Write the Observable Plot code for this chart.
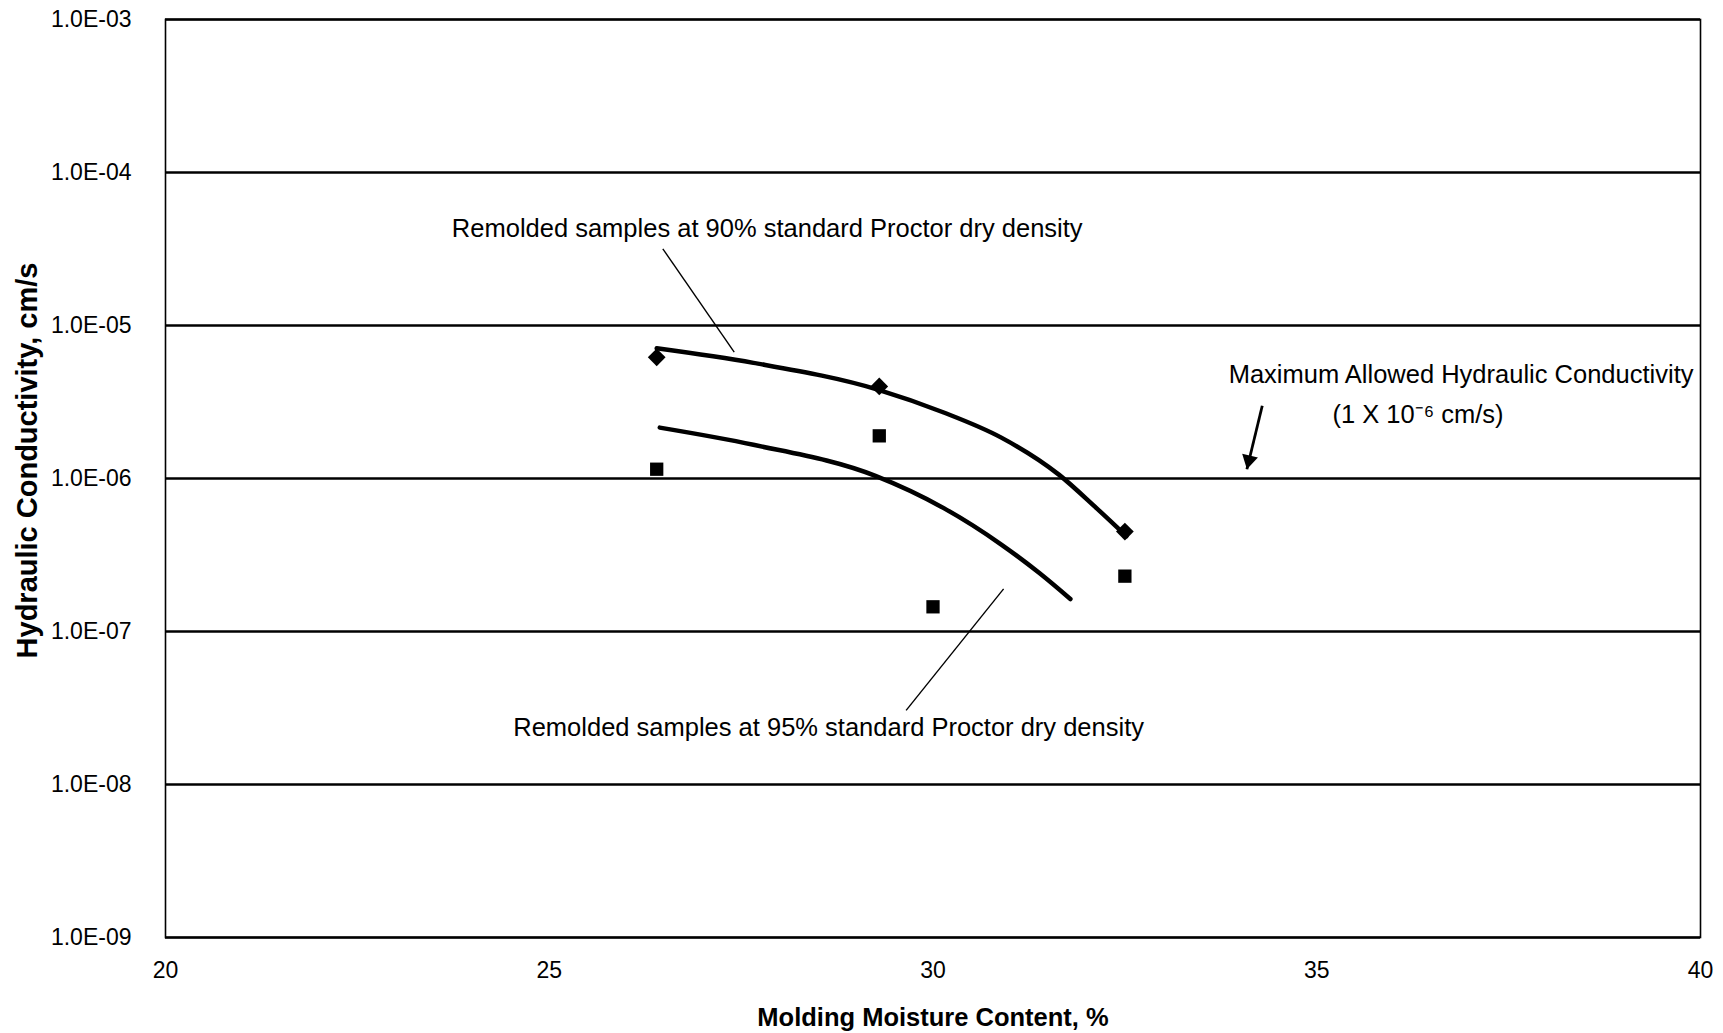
<!DOCTYPE html>
<html>
<head>
<meta charset="utf-8">
<script src="https://cdn.jsdelivr.net/npm/d3@7"></script>
<script src="https://cdn.jsdelivr.net/npm/@observablehq/plot@0.6"></script>
<style>
  html, body { margin: 0; padding: 0; background: #fff; }
  #chart svg { display: block; }
</style>
</head>
<body>
<div id="chart"></div>
<script>
// ---- Data ----
// Measured points, 90% standard Proctor dry density (diamonds)
const moisture90 = [26.4, 29.3, 32.5];
const conductivity90 = [6.2e-6, 4.0e-6, 4.5e-7];
// Measured points, 95% standard Proctor dry density (squares)
const moisture95 = [26.4, 29.3, 30.0, 32.5];
const conductivity95 = [1.15e-6, 1.9e-6, 1.45e-7, 2.3e-7];

// Trend curves
const curve90X = [26.40, 27.66, 29.29, 30.14, 30.89, 31.64, 32.13, 32.52];
const curve90Y = [7.1e-6, 5.7e-6, 3.8e-6, 2.7e-6, 1.85e-6, 1.06e-6, 6.4e-7, 4.2e-7];
const curve95X = [26.44, 27.66, 29.25, 30.14, 30.89, 31.39, 31.79];
const curve95Y = [2.15e-6, 1.66e-6, 1.04e-6, 6.4e-7, 3.7e-7, 2.4e-7, 1.63e-7];

// Axis ticks
const xTicks = [20, 25, 30, 35, 40];
const yTicks = [1e-9, 1e-8, 1e-7, 1e-6, 1e-5, 1e-4, 1e-3];
const yTickLabels = ["1.0E-09", "1.0E-08", "1.0E-07", "1.0E-06", "1.0E-05", "1.0E-04", "1.0E-03"];

// Annotations (data coordinates)
const labelTexts = [
  "Remolded samples at 90% standard Proctor dry density",
  "Remolded samples at 95% standard Proctor dry density",
  "Maximum Allowed Hydraulic Conductivity",
  "(1 X 10\u207B\u2076 cm/s)"
];
const labelX = [27.84, 28.64, 36.88, 36.32];
const labelY = [4.3e-5, 2.33e-8, 4.76e-6, 2.6e-6];
const leaderX1 = [26.48, 30.92];
const leaderY1 = [3.17e-5, 1.9e-7];
const leaderX2 = [27.41, 29.65];
const leaderY2 = [6.7e-6, 3.05e-8];
const arrowX1 = [34.29], arrowY1 = [2.99e-6], arrowX2 = [34.09], arrowY2 = [1.15e-6];

const xTitle = "Molding Moisture Content, %";
const yTitle = "Hydraulic Conductivity, cm/s";

// ---- Build tables ----
const pts90 = moisture90.map((x, i) => ({x, y: conductivity90[i]}));
const pts95 = moisture95.map((x, i) => ({x, y: conductivity95[i]}));
const c90 = curve90X.map((x, i) => ({x, y: curve90Y[i]}));
const c95 = curve95X.map((x, i) => ({x, y: curve95Y[i]}));
const labels = labelTexts.map((t, i) => ({t, x: labelX[i], y: labelY[i]}));
const leaders = leaderX1.map((x1, i) => ({x1, y1: leaderY1[i], x2: leaderX2[i], y2: leaderY2[i]}));
const arrows = arrowX1.map((x1, i) => ({x1, y1: arrowY1[i], x2: arrowX2[i], y2: arrowY2[i]}));
const yLabelMap = new Map(yTicks.map((v, i) => [v, yTickLabels[i]]));

const font = "'Liberation Sans', Arial, Helvetica, sans-serif";

const chart = Plot.plot({
  width: 1723,
  height: 1033,
  marginLeft: 165,
  marginRight: 23,
  marginTop: 19,
  marginBottom: 96,
  style: {fontFamily: font, fontSize: "23px", color: "#000", background: "#fff"},
  x: {domain: [20, 40], ticks: xTicks, tickSize: 0, tickPadding: 24, label: null},
  y: {type: "log", domain: [1e-9, 1e-3], ticks: yTicks, tickSize: 0, tickPadding: 34,
      tickFormat: d => yLabelMap.get(d), label: null},
  marks: [
    Plot.ruleY(yTicks, {stroke: "#000", strokeWidth: 2.6}),
    Plot.frame({stroke: "#000", strokeWidth: 1.6}),
    Plot.line(c90, {x: "x", y: "y", curve: "monotone-x", stroke: "#000", strokeWidth: 4.5, strokeLinecap: "round"}),
    Plot.line(c95, {x: "x", y: "y", curve: "monotone-x", stroke: "#000", strokeWidth: 4.5, strokeLinecap: "round"}),
    Plot.dot(pts90, {x: "x", y: "y", symbol: "diamond2", r: 8, fill: "#000", stroke: "none"}),
    Plot.dot(pts95, {x: "x", y: "y", symbol: "square", r: 7.5, fill: "#000", stroke: "none"}),
    Plot.link(leaders, {x1: "x1", y1: "y1", x2: "x2", y2: "y2", stroke: "#000", strokeWidth: 1.4}),
    Plot.link(arrows, {x1: "x1", y1: "y1", x2: "x2", y2: "y2", stroke: "#000", strokeWidth: 2.8}),
    Plot.dot(arrows, {x: "x2", y: "y2", symbol: "triangle", r: 6, rotate: 193, dx: 2.1, dy: -9.1, fill: "#000", stroke: "none"}),
    Plot.text(labels, {x: "x", y: "y", text: "t", fontSize: 25.5, fill: "#000", textAnchor: "middle"}),
    Plot.text([xTitle], {frameAnchor: "bottom", textAnchor: "middle", dy: 88, fontSize: 25.5, fontWeight: "bold", fill: "#000"}),
    Plot.text([yTitle], {frameAnchor: "left", textAnchor: "middle", dx: -138, dy: -18, rotate: -90, fontSize: 29, fontWeight: "bold", fill: "#000"})
  ]
});
document.getElementById("chart").appendChild(chart);
</script>
</body>
</html>
